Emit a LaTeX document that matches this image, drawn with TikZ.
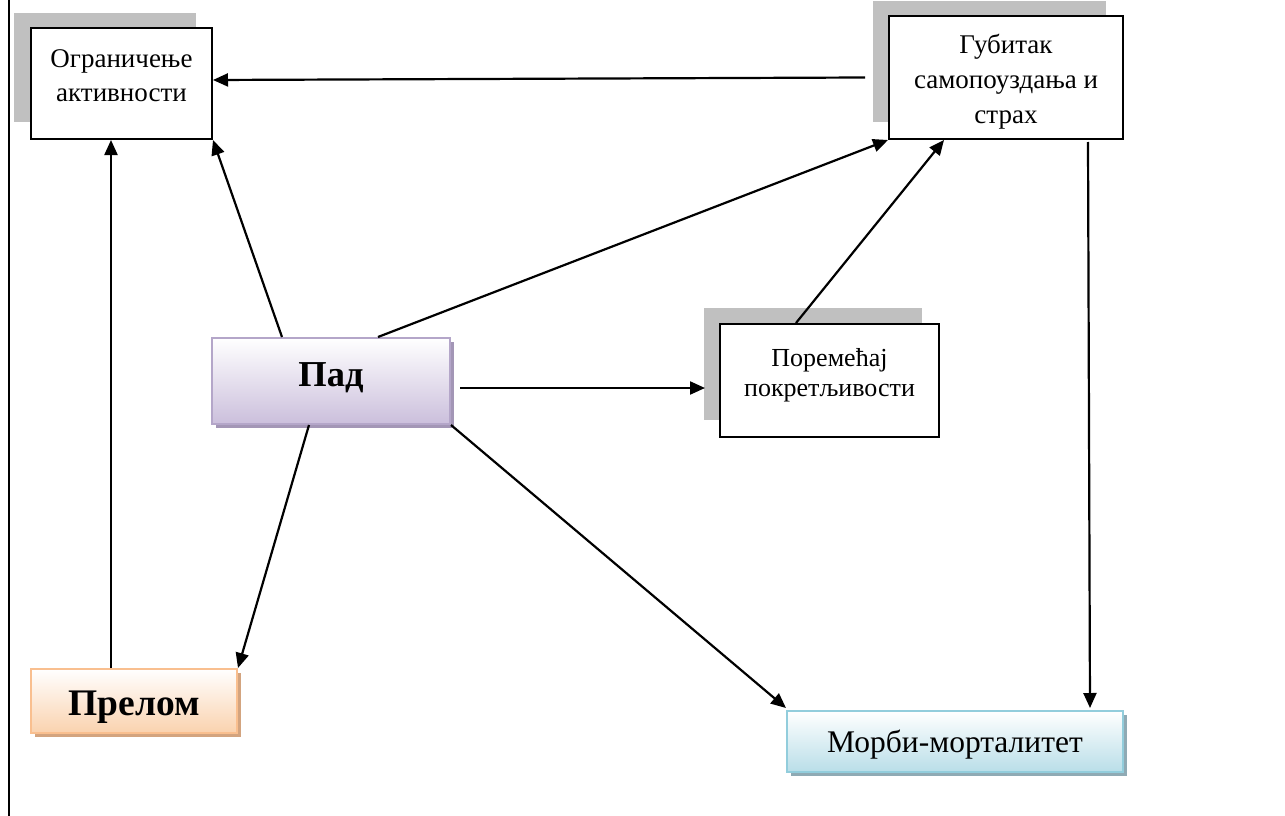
\documentclass[tikz,border=0pt]{standalone}
\usepackage{fontspec}
\setmainfont{Liberation Serif}
\usetikzlibrary{arrows.meta,calc}
\definecolor{shadegray}{HTML}{C0C0C0}
\definecolor{padfill}{HTML}{CBBFDC}
\definecolor{padline}{HTML}{B4A6C9}
\definecolor{padshadow}{HTML}{A396B6}
\definecolor{prelfill}{HTML}{FAD2AE}
\definecolor{prelline}{HTML}{F9BF8F}
\definecolor{prelshadow}{HTML}{D3A47F}
\definecolor{morbfill}{HTML}{B9DEE8}
\definecolor{morbline}{HTML}{92CDDC}
\definecolor{morbshadow}{HTML}{8FAAB4}
\tikzset{
  plainbox/.style={draw=black, line width=2pt, fill=white, align=center, inner sep=0pt},
  gradbox/.style={line width=2pt, align=center, inner sep=0pt, shading=axis, top color=white},
  conn/.style={line width=2.2pt, -{Triangle[length=15pt,width=13pt]}},
}
\begin{document}
\begin{tikzpicture}[x=1pt,y=-1pt]
\useasboundingbox (0,0) rectangle (1285,816);
\fill[white] (0,0) rectangle (1285,816);
% left border line
\draw[line width=2.2pt] (9,0) -- (9,816);
% gray offset shadows
\fill[shadegray] (14,13) rectangle (196,122);
\fill[shadegray] (873,1) rectangle (1106,122);
\fill[shadegray] (704,308) rectangle (922,420);
% coloured drop shadows
\fill[padshadow] (216,342) rectangle (454,428);
\fill[prelshadow] (35,673) rectangle (241,737);
\fill[morbshadow] (791,715) rectangle (1127,776);
% nodes
\node[plainbox, minimum width=181pt, minimum height=111pt, font=\fontsize{27}{34}\selectfont,
      text height=54pt, text depth=19pt] (ogr) at (121.5,83.5)
  {Ограничење\\ активности};
\node[plainbox, minimum width=234pt, minimum height=123pt, font=\fontsize{27}{35}\selectfont,
      text height=93pt, text depth=2pt] (gub) at (1006,77.5)
  {Губитак\\ самопоуздања и\\ страх};
\node[plainbox, minimum width=219pt, minimum height=113pt, font=\fontsize{26}{30}\selectfont,
      text height=56pt, text depth=25pt] (por) at (829.5,380.5)
  {Поремећај\\ покретљивости};
\node[gradbox, draw=padline, bottom color=padfill, minimum width=238pt, minimum height=86pt,
      font=\fontsize{36.5}{40}\selectfont\bfseries, text height=33pt, text depth=23pt] (pad) at (331,381)
  {Пад};
\node[gradbox, draw=prelline, bottom color=prelfill, minimum width=206pt, minimum height=64pt,
      font=\fontsize{37.5}{40}\selectfont\bfseries, text height=32pt, text depth=4pt] (prel) at (134,701)
  {Прелом};
\node[gradbox, draw=morbline, bottom color=morbfill, minimum width=336pt, minimum height=61pt,
      font=\fontsize{31.5}{34}\selectfont, text height=28pt, text depth=6pt] (morb) at (955,741.5)
  {Морби-морталитет};
% connectors
\draw[conn] ([xshift=-23pt]gub.west) -- ([yshift=3.5pt]ogr.east);
\draw[conn] ([xshift=71pt]pad.north west) -- (ogr.south east);
\draw[conn] ([xshift=81pt]prel.north west) -- ([xshift=81pt]ogr.south west);
\draw[conn] ([xshift=167pt]pad.north west) -- (gub.south west);
\draw[conn] ([xshift=77pt]por.north west) -- ([xshift=56pt]gub.south west);
\draw[conn] ([xshift=9pt,yshift=-7pt]pad.east) -- ([xshift=-14pt,yshift=-7.5pt]por.west);
\draw[conn] ([xshift=98pt]pad.south west) -- (prel.north east);
\draw[conn] (pad.south east) -- ([yshift=2pt]morb.north west);
\draw[conn] ([xshift=200pt,yshift=-2pt]gub.south west) -- ([xshift=-34pt,yshift=2pt]morb.north east);
\end{tikzpicture}
\end{document}
